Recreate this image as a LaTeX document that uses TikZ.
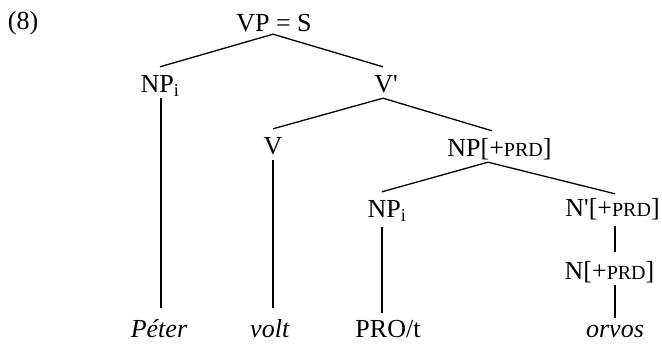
\documentclass[tikz,border=0pt]{standalone}
\usepackage{fontspec}
\setmainfont{Liberation Serif}
\newcommand{\prd}{{\fontsize{20}{24}\selectfont PRD}}
\begin{document}
\begin{tikzpicture}[x=1pt,y=-1pt,
  lab/.style={anchor=base,inner sep=0pt,text height=26pt,text depth=5pt,font=\fontsize{26}{30}\selectfont},
  word/.style={lab,text depth=2pt},
  edge/.style={line width=1.3pt}]
\useasboundingbox (0,0) rectangle (662,344);
\node[lab] (ex) at (23,30) {(8)};
\node[lab,text depth=2pt] (vp) at (274,32) {VP = S};
\node[lab] (np1) at (160,93) {NP\textsubscript{i}};
\node[lab] (vb) at (386,93) {V\textquotesingle};
\node[lab] (v) at (273,155) {V};
\node[lab] (npp) at (499.5,157) {NP[+\prd]};
\node[lab,text depth=9pt] (np2) at (387,218) {NP\textsubscript{i}};
\node[lab,text depth=9pt,text height=23pt] (nb) at (612.5,217) {N\textquotesingle[+\prd]};
\node[lab,text height=28pt] (n) at (609.5,280) {N[+\prd]};
\node[word,text height=30pt] (w1) at (159,338) {\textit{Péter}};
\node[word,text height=30pt] (w2) at (270,338) {\textit{volt}};
\node[word,text height=25pt] (w3) at (388,338) {PRO/t};
\node[word,text height=20pt] (w4) at (615,338) {\textit{orvos}};
\draw[edge] ([xshift=-1pt]vp.south) -- (np1.north);
\draw[edge] ([xshift=-1pt]vp.south) -- ([xshift=-3pt]vb.north);
\draw[edge] ([xshift=-3pt]vb.south) -- (v.north);
\draw[edge] ([xshift=-3pt]vb.south) -- ([xshift=-7.5pt]npp.north);
\draw[edge] ([xshift=-11.5pt]npp.south) -- ([xshift=-5pt]np2.north);
\draw[edge] ([xshift=-11.5pt]npp.south) -- ([xshift=2.5pt]nb.north);
\draw[edge] ([xshift=2.5pt]nb.south) -- ([xshift=5.5pt]n.north);
\draw[edge] ([xshift=1pt]np1.south) -- ([xshift=2pt]w1.north);
\draw[edge] (v.south) -- ([xshift=3pt]w2.north);
\draw[edge] ([xshift=-5pt]np2.south) -- ([xshift=-6pt]w3.north);
\draw[edge] ([xshift=5.5pt]n.south) -- (w4.north);
\end{tikzpicture}
\end{document}
